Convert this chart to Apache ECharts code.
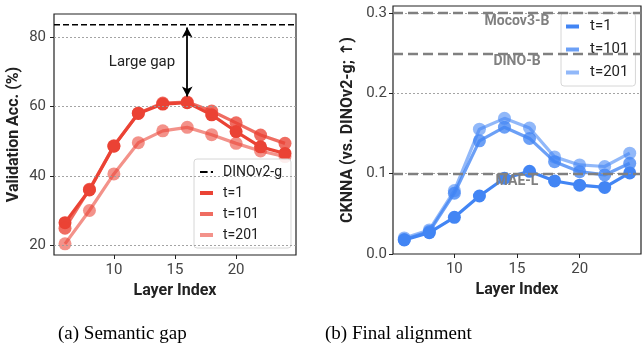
<!DOCTYPE html>
<html>
<head>
<meta charset="utf-8">
<script src="https://cdn.jsdelivr.net/npm/echarts@6/dist/echarts.min.js"></script>
<style>
  html, body { margin: 0; padding: 0; background: #fff; }
  #main { width: 642px; height: 343px; }
</style>
</head>
<body>
<div id="main"></div>
<script>
// layer index on x
var layers = [6, 8, 10, 12, 14, 16, 18, 20, 22, 24];
var xTicks = [10, 15, 20];

// (a) validation accuracy
var accT1 = [26.6, 36.0, 48.6, 58.0, 60.7, 61.1, 57.6, 52.8, 48.4, 46.5];
var accT101 = [25.0, 36.2, 48.7, 58.1, 61.0, 61.3, 58.7, 55.3, 51.8, 49.4];
var accT201 = [20.5, 30.1, 40.6, 49.6, 53.0, 54.0, 51.9, 49.4, 47.2, 45.6];
var dinov2Acc = 83.5;
var accTicks = [20, 40, 60, 80];

// (b) CKNNA vs DINOv2-g
var cknnaT1 = [0.0175, 0.0266, 0.0457, 0.0723, 0.0944, 0.103, 0.091, 0.0857, 0.083, 0.101];
var cknnaT101 = [0.018, 0.028, 0.0757, 0.141, 0.158, 0.144, 0.115, 0.1026, 0.0985, 0.113];
var cknnaT201 = [0.020, 0.030, 0.079, 0.1555, 0.169, 0.157, 0.121, 0.111, 0.109, 0.1256];
var refNames = ['Mocov3-B', 'DINO-B', 'MAE-L'];
var refValues = [0.305, 0.253, 0.100];
var cknnaTicks = [0.0, 0.1, 0.2, 0.3];

var steps = ['t=1', 't=101', 't=201'];
var alphas = [1, 0.78, 0.58];
var xMin = 5.1, xMax = 24.9;

function pairs(ys) {
    var out = [];
    for (var i = 0; i < layers.length; i++) {
        out.push([layers[i], ys[i]]);
    }
    return out;
}

function rgba(rgb, a) {
    return 'rgba(' + rgb + ',' + a + ')';
}

function curve(name, ys, rgb, a, idx) {
    var c = rgba(rgb, a);
    return {
        name: name, type: 'line', xAxisIndex: idx, yAxisIndex: idx,
        data: pairs(ys),
        symbol: 'circle', symbolSize: 13,
        lineStyle: { color: c, width: 3.2 },
        itemStyle: { color: c },
        emphasis: { disabled: true },
        z: 3
    };
}

function gridLines(idx, vals) {
    return {
        name: 'grid' + idx, type: 'line', xAxisIndex: idx, yAxisIndex: idx, data: [],
        silent: true, z: 1,
        markLine: {
            silent: true, symbol: 'none', label: { show: false },
            lineStyle: { color: '#9a9a9a', width: 0.9, type: [2, 2] },
            data: vals.map(function (v) { return { yAxis: v }; })
        }
    };
}

var red = '234,67,53';
var blue = '66,133,244';
var font = 'Roboto, "DejaVu Sans"';

var xAxisBase = function (idx) {
    return {
        type: 'value', gridIndex: idx, min: xMin, max: xMax,
        name: 'Layer Index', nameLocation: 'middle', nameGap: 26,
        nameTextStyle: { fontFamily: font, fontSize: 16, fontWeight: 'bold', color: '#222' },
        axisLine: { show: false },
        splitLine: { show: false },
        axisTick: { show: true, length: 4, customValues: xTicks, lineStyle: { color: '#222', width: 1 } },
        axisLabel: { customValues: xTicks, margin: 8, fontFamily: font, fontSize: 15, color: '#444' }
    };
};

var series = [
    gridLines(0, accTicks),
    gridLines(1, cknnaTicks.slice(1)),
    {
        name: 'DINOv2-g', type: 'line', xAxisIndex: 0, yAxisIndex: 0,
        data: [[xMin, dinov2Acc], [xMax, dinov2Acc]],
        symbol: 'none', silent: true, z: 2,
        lineStyle: { color: '#000', width: 1.5, type: [6, 3] },
        itemStyle: { color: '#000' },
        markLine: {
            silent: true, symbol: ['arrow', 'arrow'], symbolSize: [8, 10],
            label: { show: false },
            lineStyle: { color: '#000', width: 1.8, type: 'solid' },
            data: [[{ coord: [16, 82.7] }, { coord: [16, 62.9] }]]
        },
        markPoint: {
            silent: true, symbol: 'rect', symbolSize: 1,
            itemStyle: { color: 'rgba(0,0,0,0)' },
            label: { show: true, position: 'inside', formatter: 'Large gap', fontFamily: font, fontSize: 15, color: '#222' },
            data: [{ coord: [12.3, 72.8] }]
        }
    },
    {
        name: 'refs', type: 'line', xAxisIndex: 1, yAxisIndex: 1, data: [],
        silent: true, z: 2,
        markLine: {
            silent: true, symbol: 'none',
            lineStyle: { color: '#808080', width: 2.4, type: [10, 5] },
            label: {
                show: true, position: 'insideMiddleBottom', distance: 1,
                fontFamily: font, fontSize: 14, fontWeight: 'bold', color: '#808080',
                formatter: function (p) { return p.name; }
            },
            data: refNames.map(function (n, i) { return { name: n, yAxis: refValues[i] }; })
        }
    }
];

var accs = [accT1, accT101, accT201];
var cks = [cknnaT1, cknnaT101, cknnaT201];
for (var k = 0; k < steps.length; k++) {
    series.push(curve(steps[k], accs[k], red, alphas[k], 0));
}
for (var k = 0; k < steps.length; k++) {
    series.push(curve('b ' + steps[k], cks[k], blue, alphas[k], 1));
}

var legendBase = {
    orient: 'vertical', itemWidth: 13, itemHeight: 4,
    backgroundColor: 'rgba(255,255,255,0.85)',
    borderColor: '#d6d6d6', borderWidth: 1, borderRadius: 3,
    selectedMode: false,
    formatter: function (n) { return n.replace(/^b /, ''); }
};

var myChart = echarts.init(document.getElementById('main'), null, { renderer: 'canvas' });

var option = {
    animation: false,
    textStyle: { fontFamily: font },
    grid: [
        { left: 54, top: 14, width: 242, height: 241, show: true, borderColor: '#222', borderWidth: 1.2 },
        { left: 393, top: 6, width: 248, height: 248, show: true, borderColor: '#222', borderWidth: 1.2 }
    ],
    xAxis: [xAxisBase(0), xAxisBase(1)],
    yAxis: [
        {
            type: 'value', gridIndex: 0, min: 17.3, max: 86.6,
            name: 'Validation Acc. (%)', nameLocation: 'middle', nameGap: 32,
            nameTextStyle: { fontFamily: font, fontSize: 16, fontWeight: 'bold', color: '#222' },
            axisLine: { show: false }, splitLine: { show: false },
            axisTick: { show: true, length: 4, customValues: accTicks, lineStyle: { color: '#222' } },
            axisLabel: { customValues: accTicks, margin: 8, fontFamily: font, fontSize: 15, color: '#444' }
        },
        {
            type: 'value', gridIndex: 1, min: 0, max: 0.309,
            name: 'CKNNA (vs. DINOv2-g; ↑)', nameLocation: 'middle', nameGap: 37,
            nameTextStyle: { fontFamily: font, fontSize: 16, fontWeight: 'bold', color: '#222' },
            axisLine: { show: false }, splitLine: { show: false },
            axisTick: { show: true, length: 4, customValues: cknnaTicks, lineStyle: { color: '#222' } },
            axisLabel: {
                customValues: cknnaTicks, margin: 6, fontFamily: font, fontSize: 15, color: '#444',
                formatter: function (v) { return v.toFixed(1); }
            }
        }
    ],
    legend: [
        echarts.util.merge({
            left: 194, top: 159, padding: [5, 9, 5, 6], itemGap: 5,
            textStyle: { fontFamily: font, fontSize: 14, color: '#222', lineHeight: 16, padding: [0, 0, 0, 5] },
            data: [
                { name: 'DINOv2-g', icon: 'path://M0,0H7V2H0Z M10,0H12V2H10Z' },
                { name: 't=1', icon: 'rect' },
                { name: 't=101', icon: 'rect' },
                { name: 't=201', icon: 'rect' }
            ]
        }, legendBase, false),
        echarts.util.merge({
            left: 561, top: 13, padding: [5, 7, 5, 5], itemGap: 6,
            textStyle: { fontFamily: font, fontSize: 15, color: '#222', lineHeight: 17, padding: [0, 0, 0, 6] },
            data: [
                { name: 'b t=1', icon: 'rect' },
                { name: 'b t=101', icon: 'rect' },
                { name: 'b t=201', icon: 'rect' }
            ]
        }, legendBase, false)
    ],
    graphic: [
        { type: 'text', left: 58, top: 325, style: { text: '(a) Semantic gap', fontFamily: 'Liberation Serif', fontSize: 19, fill: '#000' } },
        { type: 'text', left: 325, top: 325, style: { text: '(b) Final alignment', fontFamily: 'Liberation Serif', fontSize: 19, fill: '#000' } }
    ],
    series: series
};

myChart.setOption(option);
</script>
</body>
</html>
